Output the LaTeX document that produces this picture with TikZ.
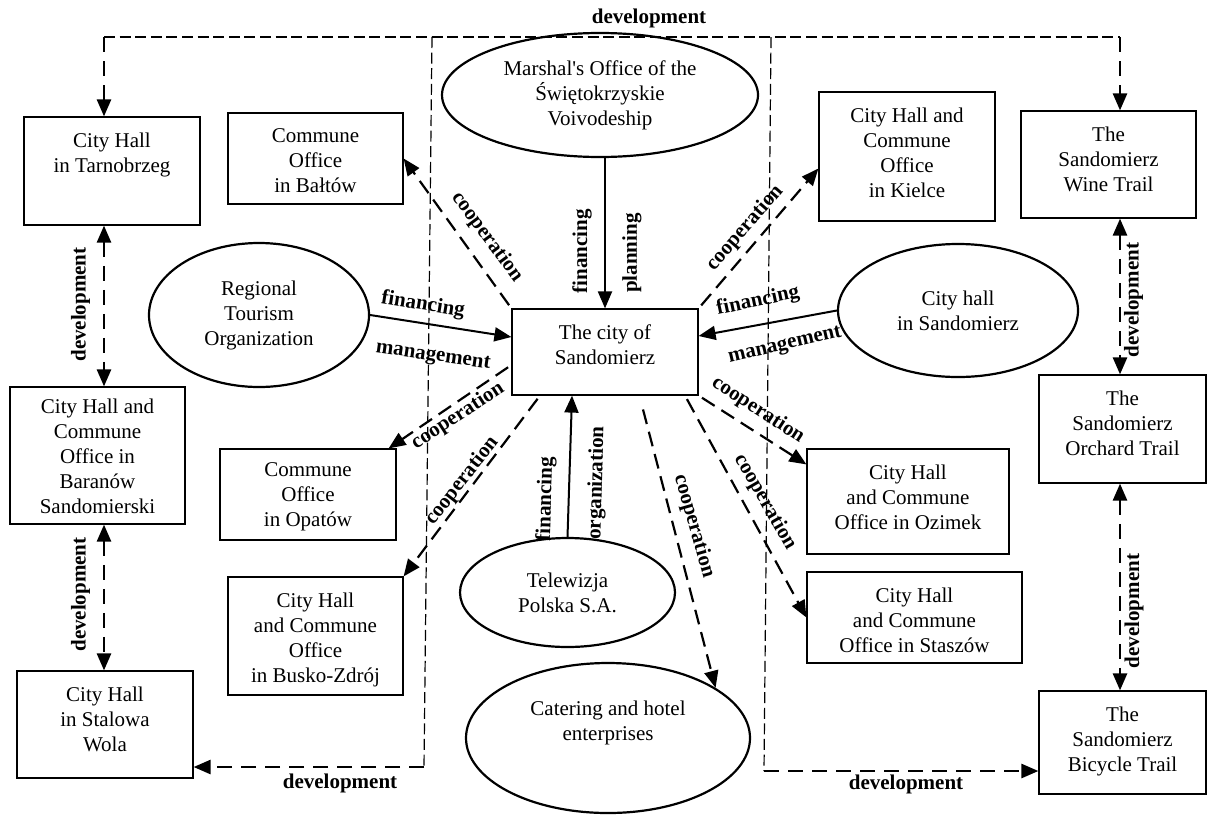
\documentclass[tikz,border=0pt]{standalone}
\usepackage{fontspec}
\setmainfont{Liberation Serif}
\usetikzlibrary{arrows.meta,shapes.geometric}
\begin{document}
\begin{tikzpicture}[x=0.5pt,y=-0.5pt,>={Triangle[length=8.5pt,width=7pt]}]
  \tikzstyle{box}=[draw,line width=0.6pt,inner sep=0pt];
  \tikzstyle{boxtext}=[anchor=north,align=center,inner sep=0pt,yshift=-8pt,font=\fontsize{10.5}{12.5}\selectfont];
  \tikzstyle{oval}=[draw,ellipse,line width=1.1pt,inner sep=0pt,align=center,font=\fontsize{10.5}{12.5}\selectfont];
  \tikzstyle{lbl}=[inner sep=0pt,font=\fontsize{10.5}{12.5}\selectfont\bfseries];
  \tikzstyle{frameline}=[dash pattern=on 5.5pt off 2.3pt,line width=0.6pt];
  \tikzstyle{dev}=[dash pattern=on 7.5pt off 4.5pt,line width=1.3pt];
  \tikzstyle{coop}=[->,dash pattern=on 7.5pt off 4pt,line width=1.1pt,shorten <=2pt];
  \tikzstyle{flow}=[->,line width=1pt];
  \useasboundingbox (0,0) rectangle (1208,814);
  % picture in pixel units, y downwards
  % frame of the region
  \coordinate (tl) at (104,37);
  \coordinate (tr) at (1120,37);
  \coordinate (lt) at (432,37);
  \coordinate (lb) at (424,767);
  \coordinate (rt) at (771,37);
  \coordinate (rb) at (764,771);
  \draw[frameline] (tl) -- (tr);
  \draw[frameline] (lt) -- (lb);
  \draw[frameline] (rt) -- (rb);
  % boxes
  \node[box,minimum width=88pt,minimum height=54pt,label={[boxtext]north:City Hall\\in Tarnobrzeg}] (tarno) at (112,171) {};
  \node[box,minimum width=87.5pt,minimum height=45.5pt,label={[boxtext]north:Commune\\Office\\in Bałtów}] (baltow) at (315.5,158.5) {};
  \node[box,minimum width=88pt,minimum height=64.5pt,label={[boxtext]north:City Hall and\\Commune\\Office\\in Kielce}] (kielce) at (907,156.5) {};
  \node[box,minimum width=87.5pt,minimum height=53.5pt,label={[boxtext]north:The\\Sandomierz\\Wine Trail}] (wine) at (1108.5,164.5) {};
  \node[box,minimum width=93pt,minimum height=43pt,label={[boxtext]north:The city of\\Sandomierz}] (city) at (605,352) {};
  \node[box,minimum width=87.5pt,minimum height=68.5pt,label={[boxtext,yshift=2pt]north:City Hall and\\Commune\\Office in\\Baranów\\Sandomierski}] (baranow) at (97.5,455.5) {};
  \node[box,minimum width=83.5pt,minimum height=54pt,label={[boxtext]north:The\\Sandomierz\\Orchard Trail}] (orchard) at (1122.5,429) {};
  \node[box,minimum width=88pt,minimum height=45.5pt,label={[boxtext,yshift=1pt]north:Commune\\Office\\in Opatów}] (opatow) at (308,494.5) {};
  \node[box,minimum width=101pt,minimum height=52.5pt,label={[boxtext]north:City Hall\\and Commune\\Office in Ozimek}] (ozimek) at (908,501.5) {};
  \node[box,minimum width=87.5pt,minimum height=59pt,label={[boxtext]north:City Hall\\and Commune\\Office\\in Busko-Zdrój}] (busko) at (315.5,636) {};
  \node[box,minimum width=107.5pt,minimum height=45.5pt,label={[boxtext]north:City Hall\\and Commune\\Office in Staszów}] (staszow) at (914.5,617.5) {};
  \node[box,minimum width=88pt,minimum height=53.5pt,label={[boxtext]north:City Hall\\in Stalowa\\Wola}] (stalowa) at (105,724.5) {};
  \node[box,minimum width=83.5pt,minimum height=51.5pt,label={[boxtext]north:The\\Sandomierz\\Bicycle Trail}] (bicycle) at (1122.5,742.5) {};
  % ellipses
  \node[oval,minimum width=158pt,minimum height=62pt] (marshal) at (600,95) {Marshal\textquotesingle s Office of the\\Świętokrzyskie\\Voivodeship};
  \node[oval,minimum width=110pt,minimum height=72pt] (rto) at (259,315) {Regional\\Tourism\\Organization};
  \node[oval,minimum width=120pt,minimum height=66.5pt] (cityhall) at (958,310.5) {City hall\\in Sandomierz};
  \node[oval,minimum width=107.5pt,minimum height=54.5pt] (telewizja) at (567.5,592.5) {Telewizja\\Polska S.A.};
  \node[oval,minimum width=142pt,minimum height=75pt,label={[boxtext,yshift=-11.5pt]north:Catering and hotel\\enterprises}] (catering) at (608,738) {};
  % development links
  \draw[dev,->] (tl) -- (tl |- tarno.north);
  \draw[dev,->] (tr) -- (tr |- wine.north);
  \draw[dev,<->] (tarno.south -| tl) -- (baranow.north -| tl);
  \draw[dev,<->] (baranow.south -| tl) -- (stalowa.north -| tl);
  \draw[dev,<->] (wine.south -| tr) -- (orchard.north -| tr);
  \draw[dev,<->] (orchard.south -| tr) -- (bicycle.north -| tr);
  \draw[dev,->] (lb) -- (lb -| stalowa.east);
  \draw[dev,->] (rb) -- (rb -| bicycle.west);
  % financing links
  \draw[flow] (marshal.south -| city.north) -- (city.north);
  \draw[flow] (rto.east) -- ([yshift=7.5pt]city.west);
  \draw[flow] (cityhall.west) -- ([yshift=8pt]city.east);
  \draw[flow] (telewizja.north) -- ([xshift=-16.5pt]city.south);
  % cooperation links
  \draw[coop] (city.north west) -- (baltow.east);
  \draw[coop] (city.north east) -- ([yshift=-6pt]kielce.west);
  \draw[coop] ([yshift=-6.5pt]city.west) -- ([xshift=-4pt]opatow.north east);
  \draw[coop] ([xshift=-32.5pt]city.south) -- (busko.north east);
  \draw[coop] (city.south east) -- ([yshift=-8pt]ozimek.north west);
  \draw[coop] ([xshift=40pt]city.south) -- (staszow.west);
  \draw[coop] ([xshift=18.5pt,yshift=-5pt]city.south) -- (catering.25);
  % labels
  \node[lbl] (devtop) at (649,18) {development};
  \node[lbl,rotate=90] (devleftA) at (80.5,304.5) {development};
  \node[lbl,rotate=90] (devleftB) at (80.5,594.5) {development};
  \node[lbl,rotate=90] (devrightA) at (1133.5,300) {development};
  \node[lbl,rotate=90] (devrightB) at (1134,611) {development};
  \node[lbl] (devbotL) at (340,783) {development};
  \node[lbl] (devbotR) at (906,784) {development};
  \node[lbl,rotate=90] (finM) at (582,251) {financing};
  \node[lbl,rotate=90] (planM) at (632,253) {planning};
  \node[lbl,rotate=-9] (finR) at (423,305) {financing};
  \node[lbl,rotate=-8] (manR) at (433,357) {management};
  \node[lbl,rotate=12] (finC) at (758,301) {financing};
  \node[lbl,rotate=13] (manC) at (785,346) {management};
  \node[lbl,rotate=88.4] (finT) at (546,499) {financing};
  \node[lbl,rotate=88.4] (orgT) at (597,483) {organization};
  \node[lbl,rotate=-53.6] (coBaltow) at (487,237) {cooperation};
  \node[lbl,rotate=49] (coKielce) at (745,228) {cooperation};
  \node[lbl,rotate=33] (coOpatow) at (458,416) {cooperation};
  \node[lbl,rotate=52] (coBusko) at (462,481) {cooperation};
  \node[lbl,rotate=-33] (coOzimek) at (758,410) {cooperation};
  \node[lbl,rotate=-60] (coStaszow) at (765,502) {cooperation};
  \node[lbl,rotate=-74] (coCatering) at (694,526) {cooperation};
\end{tikzpicture}
\end{document}
